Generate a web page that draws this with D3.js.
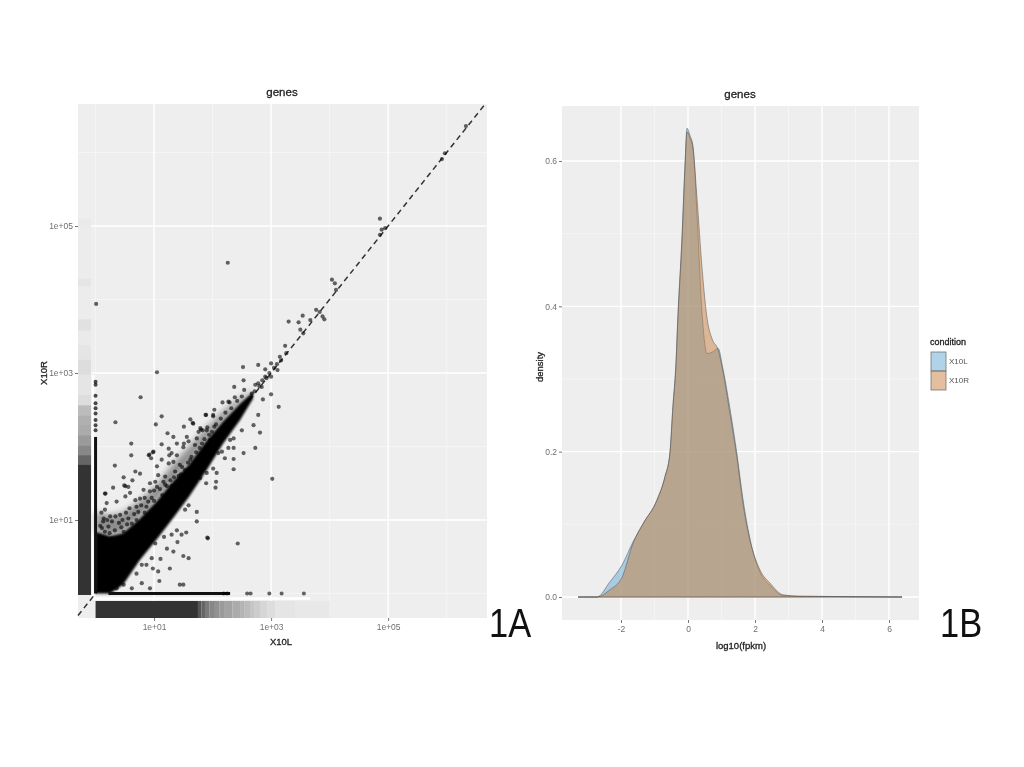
<!DOCTYPE html>
<html>
<head>
<meta charset="utf-8">
<script src="https://cdn.jsdelivr.net/npm/d3@7"></script>
<style>
    html, body { margin: 0; padding: 0; background: #fff; }
    svg { display: block; filter: blur(0.75px); font-family: "Liberation Sans", Arial, sans-serif; }
    .tick text { fill: #6f6f6f; font-size: 8.5px; }
    .tick line { stroke: #777; }
    .domain { display: none; }
    .heavy { stroke: #222; stroke-width: 0.3px; }
</style>
</head>
<body>
<svg width="1024" height="767">
    <defs>
        <filter id="softBand" x="-10%" y="-10%" width="120%" height="120%"><feGaussianBlur stdDeviation="1.1"/></filter>
        <filter id="softHalo" x="-10%" y="-10%" width="120%" height="120%"><feGaussianBlur stdDeviation="3"/></filter>
    </defs>
</svg>
<script>
const scatterTickValues = [1, 3, 5];
const scatterTickLabels = ["1e+01", "1e+03", "1e+05"];

// Scatter points [log10 X10L, log10 X10R]
const scatterAbove = [
    [1.05,3.01],[0.77,2.67],[0.34,2.33],[1.03,2.30],[1.13,2.41],[0.61,2.04],[0.61,1.88],[0.33,1.74],[0.30,1.44],
    [0.17,1.36],[0.48,1.58],[0.68,1.66],[0.76,1.63],[0.92,1.89],[0.98,1.92],[1.13,2.03],[1.23,2.18],[1.33,2.13],
    [1.51,2.27],[1.62,2.37],[1.67,2.31],[1.89,2.43],[2.03,2.50],[2.01,2.43],[2.17,2.60],[2.37,2.81],[2.52,3.08],
    [2.53,2.90],[2.27,2.61],[1.83,2.22],[1.76,2.20],[1.56,2.13],[1.51,2.04],[1.39,2.04],[1.25,1.97],[1.30,1.91],
    [1.39,1.88],[1.25,1.77],[1.13,1.82],[1.05,1.73],[0.93,1.50],[0.99,1.93],[0.91,1.88],[0.95,1.84],[1.26,1.88],
    [1.59,2.07],[1.50,1.99],[1.80,2.23],[1.91,2.26],[1.62,1.82],[1.44,1.75],[1.33,1.79],[0.63,1.54],[0.49,1.47],
    [0.56,1.45],[1.02,1.52],[1.07,1.61],[1.19,1.59],[1.36,1.66],[1.53,1.68],[1.67,1.70],[1.79,1.82],[1.87,1.91],
    [0.51,1.46],[0.59,1.37],[0.16,1.36],[0.36,1.25],[0.51,1.32],[0.68,1.27],[0.76,1.29],[0.82,1.41],[0.93,1.39],
    [0.90,1.25],[0.19,1.23],[0.16,1.14],[0.42,1.07],[0.56,1.02],[0.62,0.95],[0.25,1.05],[0.13,0.98],[0.48,0.84],
    [0.33,0.86],[0.22,0.91],[0.73,1.11],[0.87,1.18],[1.05,1.45],[1.19,1.48],[0.11,0.89],[0.28,0.75],[0.39,0.71],
    [0.08,0.77],[2.29,2.60],[2.38,2.67],[2.54,2.77],[2.01,2.41],[1.88,2.43],[1.66,2.32],[1.79,2.25],[1.90,2.22],
    [2.03,2.27],[1.99,2.20],[1.73,2.11],[1.82,2.04],[1.96,2.09],[1.70,2.02],[2.78,3.11],[2.90,3.05],[2.78,2.86],
    [2.84,2.81],[3.00,3.13],[3.11,3.04],[3.00,2.95],[2.90,2.95],[2.73,2.84],[2.67,2.72]
];
// Denser part of the cloud just over the band
const scatterCloud = [
    [0.10,1.10],[0.14,1.02],[0.20,1.00],[0.28,0.98],[0.34,1.05],[0.40,0.96],[0.46,1.00],[0.52,1.10],[0.58,1.16],
    [0.66,1.08],[0.70,1.18],[0.78,1.20],[0.84,1.30],[0.96,1.30],[1.00,1.40],[1.10,1.42],[1.16,1.52],[1.22,1.46],
    [1.28,1.54],[1.34,1.58],[1.42,1.60],[1.48,1.72],[1.58,1.78],[1.64,1.86],[1.72,1.92],[1.78,1.98],[1.86,2.10],
    [1.94,2.16],[2.06,2.30],[2.14,2.38],[2.22,2.46],[2.32,2.52],[2.42,2.62],[2.50,2.68],[0.08,0.92],[0.16,0.84],
    [0.24,0.82],[0.44,0.90],[0.54,0.94],[0.70,1.00],[0.84,1.10],[1.00,1.26],[1.14,1.34],[1.30,1.46],[1.46,1.62]
];
const scatterBelow = [
    [1.59,1.20],[1.73,1.11],[1.73,0.98],[1.91,0.76],[1.53,1.14],[1.39,0.86],[1.55,0.83],[1.47,0.80],[1.40,0.70],
    [1.17,0.77],[1.30,0.80],[1.02,0.68],[1.22,0.61],[1.33,0.57],[1.50,0.51],[1.59,0.48],[0.96,0.48],[1.11,0.47],
    [1.27,0.34],[0.73,0.50],[0.79,0.39],[0.70,0.27],[0.87,0.39],[0.98,0.34],[1.07,0.30],[1.09,0.17],[0.79,0.14],
    [0.62,0.07],[0.93,0.07],[1.44,0.12],[1.50,0.12],[0.48,0.12],[0.36,0.07],[3.00,2.71],[3.13,2.54],[2.86,2.64],
    [2.78,2.43],[2.70,2.29],[2.81,2.19],[2.73,1.98],[2.53,1.91],[2.36,1.98],[2.27,1.98],[2.50,2.22],[2.36,2.11],
    [2.30,2.09],[2.16,1.93],[2.36,1.83],[2.21,1.84],[2.10,1.91],[2.36,1.69],[2.01,1.70],[2.07,1.64],[1.90,1.64],
    [2.06,1.52],[2.05,1.44],[1.89,1.50],[1.79,1.57],[3.02,1.56],[1.92,0.75],[2.43,0.68]
];
const scatterHigh = [
    [2.26,4.50],[0.01,3.94],[4.86,5.10],[4.89,4.95],[4.86,4.88],[4.95,4.97],[4.04,4.27],[4.09,4.22],[4.11,4.13],
    [3.77,3.86],[3.83,3.83],[3.88,3.77],[3.91,3.73],[3.67,3.72],[3.30,3.70],[3.54,3.78],[3.47,3.69],[3.50,3.59],
    [3.55,3.54],[3.24,3.37],[3.26,3.27],[3.15,3.22],[3.17,3.17],[5.92,5.91],[5.97,5.99],[6.33,6.36],
    [2.72,2.75],[2.80,2.82],[2.85,2.90],[2.92,2.93],[2.97,3.00],[3.05,3.07],[3.10,3.12]
];
// Points sitting on the two zero edges
const columnLogY = [2.88,2.84,2.69,2.59,2.52,2.45,2.36,2.29,2.22];
const rowLogX = [2.19,2.25,2.59,2.65,2.97,3.18,3.56];
const columnSpan = [0, 2.13];
const rowSpan = [0.22, 2.3];

// Solid band of overplotted points along the diagonal
const bandLogX = [0, 0.25, 0.47, 0.76, 1.05, 1.32, 1.60, 1.90, 2.18, 2.47, 2.69];
const bandHigh = [0.84, 0.78, 0.82, 1.02, 1.26, 1.52, 1.76, 2.08, 2.34, 2.58, 2.74];
const bandLow = [0, 0, 0.12, 0.46, 0.74, 1.02, 1.32, 1.68, 2.04, 2.36, 2.65];
const haloHigh = [1.10, 1.06, 1.10, 1.26, 1.48, 1.76, 2.00, 2.26, 2.48, 2.66, 2.77];

// Rugs down the left and along the bottom: bin edges and how dark each bin is
const rugYEdges = [0,1.77,1.9,2.03,2.17,2.31,2.44,2.58,2.72,3.0,3.2,3.4,3.6,3.75,4.2,4.3,5.0,5.1];
const rugYLevels = [1,0.73,0.55,0.45,0.36,0.33,0.27,0.09,0.05,0.09,0.05,0.02,0.07,0.01,0.05,0.01,0.02];
const rugXEdges = [0,1.75,1.81,1.87,1.95,2.04,2.12,2.21,2.34,2.47,2.55,2.64,2.72,2.81,2.94,3.07,3.41,4.0];
const rugXLevels = [1,0.82,0.73,0.62,0.55,0.5,0.45,0.4,0.36,0.31,0.27,0.22,0.18,0.13,0.09,0.05,0.03];

// **** Panel B data ****
const densityX = [-3.28,-2.72,-2.33,-1.97,-1.64,-1.34,-0.93,-0.69,-0.54,-0.45,-0.36,-0.30,-0.18,-0.09,-0.03,0.06,0.15,0.27,0.42,0.57,0.72,0.90,1.04,1.25,1.46,1.64,1.85,2.15,2.45,2.84,3.34,4.84,6.39];
const densityL = [0,0,0.021,0.044,0.076,0.101,0.133,0.165,0.198,0.262,0.322,0.388,0.495,0.595,0.645,0.635,0.62,0.525,0.39,0.335,0.337,0.342,0.315,0.26,0.197,0.135,0.08,0.034,0.016,0.002,0.001,0.0005,0];
const densityR = [0,0,0.01,0.027,0.074,0.101,0.133,0.165,0.198,0.262,0.318,0.385,0.49,0.59,0.64,0.632,0.617,0.548,0.452,0.383,0.355,0.34,0.311,0.253,0.192,0.129,0.078,0.037,0.019,0.003,0.001,0.0005,0];
const densityXTicks = [-2, 0, 2, 4, 6];
const densityYTicks = [0, 0.2, 0.4, 0.6];
const conditions = ["X10L", "X10R"];

const colours = { "X10L": "#62a8d4", "X10R": "#c8803f" };
const panelGrey = "#eeeeee";

var svg = d3.select("svg");

// **** Panel A ****
var xA = d3.scaleLog().domain([Math.pow(10, -0.30), Math.pow(10, 6.69)]).range([78, 487]);
var yA = d3.scaleLog().domain([Math.pow(10, -0.32), Math.pow(10, 6.66)]).range([617, 104]);
var px = d => xA(Math.pow(10, d));
var py = d => yA(Math.pow(10, d));
var rugGrey = d3.scaleLinear().domain([0, 1]).range([panelGrey, "#333333"]);

var chartA = svg.append("g");

chartA.append("rect").attr("x", 78).attr("y", 104).attr("width", 409).attr("height", 514).attr("fill", panelGrey);

// minor grid first, major on top
[0, 2, 4, 6].forEach(function(d) {
    chartA.append("line").attr("x1", px(d)).attr("x2", px(d)).attr("y1", 104).attr("y2", 618).attr("stroke", "#f8f8f8").attr("stroke-width", 0.7);
    chartA.append("line").attr("y1", py(d)).attr("y2", py(d)).attr("x1", 78).attr("x2", 487).attr("stroke", "#f8f8f8").attr("stroke-width", 0.7);
});
scatterTickValues.forEach(function(d) {
    chartA.append("line").attr("x1", px(d)).attr("x2", px(d)).attr("y1", 104).attr("y2", 618).attr("stroke", "#fff").attr("stroke-width", 1.4);
    chartA.append("line").attr("y1", py(d)).attr("y2", py(d)).attr("x1", 78).attr("x2", 487).attr("stroke", "#fff").attr("stroke-width", 1.4);
});

// rugs
chartA.selectAll(".rugY").data(rugYLevels).enter().append("rect")
    .attr("class", "rugY")
    .attr("x", 78).attr("width", 13)
    .attr("y", (d, i) => py(rugYEdges[i + 1]))
    .attr("height", (d, i) => py(rugYEdges[i]) - py(rugYEdges[i + 1]) + 1.5)
    .attr("fill", d => rugGrey(d));

chartA.selectAll(".rugX").data(rugXLevels).enter().append("rect")
    .attr("class", "rugX")
    .attr("y", 601).attr("height", 17)
    .attr("x", (d, i) => px(rugXEdges[i]))
    .attr("width", (d, i) => px(rugXEdges[i + 1]) - px(rugXEdges[i]))
    .attr("fill", d => rugGrey(d));

// white gaps next to the rugs
chartA.append("line").attr("x1", 93).attr("x2", 93).attr("y1", 375).attr("y2", 598).attr("stroke", "#fff").attr("stroke-width", 2.5);
chartA.append("line").attr("x1", 93).attr("x2", 310).attr("y1", 598.5).attr("y2", 598.5).attr("stroke", "#fff").attr("stroke-width", 2.5);

// identity line, under the points
chartA.append("line")
    .attr("x1", px(-0.30)).attr("y1", py(-0.30))
    .attr("x2", px(6.64)).attr("y2", py(6.64))
    .attr("stroke", "#333").attr("stroke-width", 1.5).attr("stroke-dasharray", "5.5 4");

// overplotted band
var halo = d3.area().x((d, i) => px(bandLogX[i])).y0((d, i) => py(bandHigh[i])).y1(d => py(d));
chartA.append("path").datum(haloHigh).attr("d", halo).attr("fill", "#000").attr("opacity", 0.4).attr("filter", "url(#softHalo)");

var band = d3.area().x((d, i) => px(bandLogX[i])).y0((d, i) => py(bandLow[i])).y1(d => py(d));
chartA.append("path").datum(bandHigh).attr("d", band).attr("fill", "#050505").attr("filter", "url(#softBand)");

// zero edges
chartA.append("line").attr("x1", px(0)).attr("x2", px(0)).attr("y1", py(columnSpan[0])).attr("y2", py(columnSpan[1])).attr("stroke", "#111").attr("stroke-width", 3);
chartA.append("line").attr("y1", py(0)).attr("y2", py(0)).attr("x1", px(rowSpan[0])).attr("x2", px(rowSpan[1])).attr("stroke", "#111").attr("stroke-width", 3);

chartA.selectAll(".pt").data(scatterAbove.concat(scatterCloud, scatterBelow, scatterHigh)).enter().append("circle")
    .attr("class", "pt")
    .attr("cx", d => px(d[0])).attr("cy", d => py(d[1])).attr("r", 2.1)
    .attr("fill", "#000").attr("opacity", 0.6);

chartA.selectAll(".col").data(columnLogY).enter().append("circle")
    .attr("class", "col")
    .attr("cx", px(0)).attr("cy", d => py(d)).attr("r", 2)
    .attr("fill", "#000").attr("opacity", 0.7);

chartA.selectAll(".row").data(rowLogX).enter().append("circle")
    .attr("class", "row")
    .attr("cx", d => px(d)).attr("cy", py(0)).attr("r", 2)
    .attr("fill", "#000").attr("opacity", 0.6);

chartA.append("g").attr("transform", "translate(0,618)")
    .call(d3.axisBottom(xA).tickValues(scatterTickValues.map(d => Math.pow(10, d)))
        .tickFormat((d, i) => scatterTickLabels[i]).tickSize(3).tickPadding(3));

chartA.append("g").attr("transform", "translate(78,0)")
    .call(d3.axisLeft(yA).tickValues(scatterTickValues.map(d => Math.pow(10, d)))
        .tickFormat((d, i) => scatterTickLabels[i]).tickSize(3).tickPadding(2));

chartA.append("text").attr("class", "heavy").attr("x", 282).attr("y", 96).attr("text-anchor", "middle").attr("font-size", 11.5).attr("fill", "#222").text("genes");
chartA.append("text").attr("class", "heavy").attr("x", 281).attr("y", 645).attr("text-anchor", "middle").attr("font-size", 9.5).attr("fill", "#222").text("X10L");
chartA.append("text").attr("class", "heavy").attr("transform", "translate(47,373) rotate(-90)").attr("text-anchor", "middle").attr("font-size", 9.5).attr("fill", "#222").text("X10R");
chartA.append("text").attr("transform", "translate(489,637) scale(0.84,1)").attr("font-size", 41).attr("fill", "#111").text("1A");

// **** Panel B ****
var xB = d3.scaleLinear().domain([-2, 6]).range([621, 889]);
var yB = d3.scaleLinear().domain([0, 0.6]).range([597, 161]);

var chartB = svg.append("g");

chartB.append("rect").attr("x", 562).attr("y", 106).attr("width", 357).attr("height", 514).attr("fill", panelGrey);

[-1, 1, 3, 5].forEach(function(d) {
    chartB.append("line").attr("x1", xB(d)).attr("x2", xB(d)).attr("y1", 106).attr("y2", 620).attr("stroke", "#f8f8f8").attr("stroke-width", 0.7);
});
[0.1, 0.3, 0.5].forEach(function(d) {
    chartB.append("line").attr("y1", yB(d)).attr("y2", yB(d)).attr("x1", 562).attr("x2", 919).attr("stroke", "#f8f8f8").attr("stroke-width", 0.7);
});
densityXTicks.forEach(function(d) {
    chartB.append("line").attr("x1", xB(d)).attr("x2", xB(d)).attr("y1", 106).attr("y2", 620).attr("stroke", "#fff").attr("stroke-width", 1.4);
});
densityYTicks.forEach(function(d) {
    chartB.append("line").attr("y1", yB(d)).attr("y2", yB(d)).attr("x1", 562).attr("x2", 919).attr("stroke", "#fff").attr("stroke-width", 1.4);
});

var densityArea = d3.area()
    .x((d, i) => xB(densityX[i]))
    .y0(yB(0))
    .y1(d => yB(d))
    .curve(d3.curveMonotoneX);

[densityL, densityR].forEach(function(series, i) {
    chartB.append("path").datum(series)
        .attr("d", densityArea)
        .attr("fill", colours[conditions[i]])
        .attr("fill-opacity", 0.5)
        .attr("stroke", "#555")
        .attr("stroke-opacity", 0.6)
        .attr("stroke-width", 0.9);
});

chartB.append("g").attr("transform", "translate(0,620)")
    .call(d3.axisBottom(xB).tickValues(densityXTicks).tickFormat(d => String(d)).tickSize(3).tickPadding(3));

chartB.append("g").attr("transform", "translate(562,0)")
    .call(d3.axisLeft(yB).tickValues(densityYTicks).tickFormat(d3.format(".1f")).tickSize(3).tickPadding(2));

chartB.append("text").attr("class", "heavy").attr("x", 740).attr("y", 98).attr("text-anchor", "middle").attr("font-size", 11.5).attr("fill", "#222").text("genes");
chartB.append("text").attr("class", "heavy").attr("x", 741).attr("y", 649).attr("text-anchor", "middle").attr("font-size", 9.5).attr("fill", "#222").text("log10(fpkm)");
chartB.append("text").attr("class", "heavy").attr("transform", "translate(543,367) rotate(-90)").attr("text-anchor", "middle").attr("font-size", 9.5).attr("fill", "#222").text("density");
chartB.append("text").attr("transform", "translate(940,637) scale(0.84,1)").attr("font-size", 41).attr("fill", "#111").text("1B");

// legend
var legend = svg.append("g").attr("transform", "translate(931,352)");

legend.append("text").attr("class", "heavy").attr("x", -1).attr("y", -7).attr("font-size", 9).attr("fill", "#222").text("condition");

var legendItem = legend.selectAll(".key").data(conditions).enter().append("g")
    .attr("class", "key")
    .attr("transform", (d, i) => `translate(0, ${i * 19})`);

legendItem.append("rect").attr("width", 15).attr("height", 19)
    .attr("fill", d => colours[d]).attr("fill-opacity", 0.5)
    .attr("stroke", "#777").attr("stroke-width", 0.8);

legendItem.append("text").attr("x", 18).attr("y", 12).attr("font-size", 8).attr("fill", "#555").text(d => d);
</script>
</body>
</html>
